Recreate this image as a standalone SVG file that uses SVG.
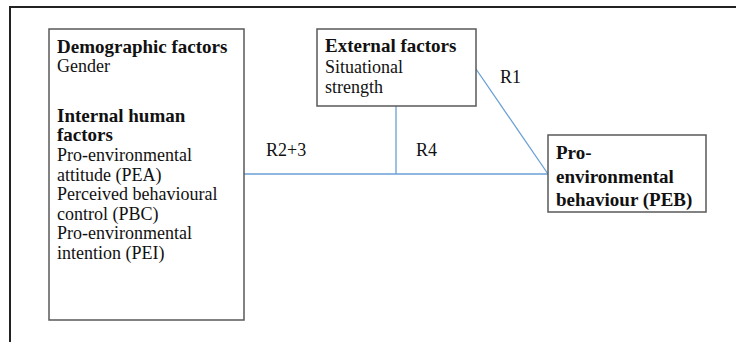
<svg xmlns="http://www.w3.org/2000/svg" width="736" height="342" viewBox="0 0 736 342">
<style>
.box{fill:#fff;stroke:#595959;stroke-width:1.5}
.frame{fill:none;stroke:#222;stroke-width:2}
.con{fill:none;stroke:#6a9fd4;stroke-width:1.3}
.t{font-family:'Liberation Serif','Times New Roman',serif;font-size:18px;fill:#111}
.b{font-family:'Liberation Serif','Times New Roman',serif;font-size:19px;font-weight:bold;fill:#111}
</style>
<rect width="736" height="342" fill="#fff"/>
<path class="frame" d="M10,342 V7 H736"/>
<g id="connectors">
<line class="con" x1="244" y1="174" x2="548" y2="174"/>
<line class="con" x1="396" y1="106" x2="396" y2="174"/>
<line class="con" x1="476" y1="69" x2="548" y2="174"/>
<text class="t" x="266" y="156">R2+3</text>
<text class="t" x="416" y="156">R4</text>
<text class="t" x="500" y="83">R1</text>
</g>
<g id="left">
<rect class="box" x="49" y="29" width="195" height="291"/>
<text class="b" x="57" y="53">Demographic factors</text>
<text class="t" x="57" y="72">Gender</text>
<text class="b" x="57" y="122">Internal human</text>
<text class="b" x="57" y="141">factors</text>
<text class="t" x="57" y="161">Pro-environmental</text>
<text class="t" x="57" y="181">attitude (PEA)</text>
<text class="t" x="57" y="200">Perceived behavioural</text>
<text class="t" x="57" y="220">control (PBC)</text>
<text class="t" x="57" y="239">Pro-environmental</text>
<text class="t" x="57" y="259">intention (PEI)</text>
</g>
<g id="external">
<rect class="box" x="317" y="29" width="159" height="77"/>
<text class="b" x="325" y="52">External factors</text>
<text class="t" x="325" y="73">Situational</text>
<text class="t" x="325" y="93">strength</text>
</g>
<g id="peb">
<rect class="box" x="548" y="135" width="158" height="77"/>
<text class="b" x="556" y="159">Pro-</text>
<text class="b" x="556" y="183">environmental</text>
<text class="b" x="556" y="206">behaviour (PEB)</text>
</g>
</svg>
